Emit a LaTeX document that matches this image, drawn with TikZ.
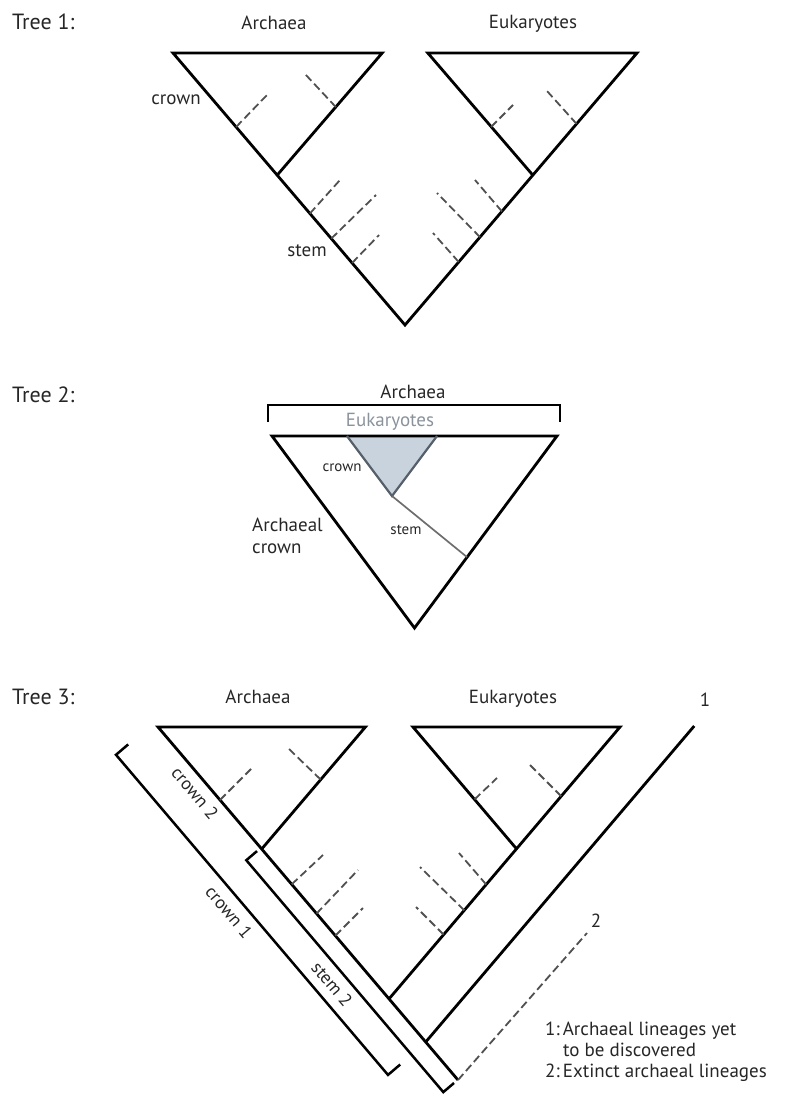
\documentclass[tikz,border=0pt]{standalone}
\usepackage{fontspec}
\setmainfont{PT Sans}
\usetikzlibrary{calc}
\definecolor{txt}{HTML}{262626}
\definecolor{dashgrey}{HTML}{505050}
\definecolor{eukfill}{HTML}{C9D3DD}
\definecolor{eukedge}{HTML}{55606A}
\definecolor{eukname}{HTML}{8A929C}
\definecolor{stemgrey}{HTML}{6E6E6E}
\begin{document}
\begin{tikzpicture}[x=1pt,y=-1pt,
  treeline/.style={line width=2.8pt, line join=miter, black},
  bracketline/.style={line width=2.5pt, line join=miter, black},
  dashline/.style={line width=1.8pt, dashgrey, dash pattern=on 8pt off 4pt},
  lbl/.style={text=txt, inner sep=0pt, font=\fontsize{19}{22}\selectfont},
  treelbl/.style={text=txt, inner sep=0pt, anchor=west, font=\fontsize{22}{25}\selectfont},
  smalllbl/.style={text=txt, inner sep=0pt, font=\fontsize{15}{18}\selectfont},
  rotlbl/.style={text=txt, inner sep=0pt, rotate=-49.65, font=\fontsize{18}{21}\selectfont}
]
\useasboundingbox (0,0) rectangle (785,1095);

% ---------------- Tree 1 ----------------
\coordinate (A1TL) at (173,53);
\coordinate (A1TR) at (382.2,53);
\coordinate (N1a) at (277.3,175);
\coordinate (E1TL) at (427.8,53);
\coordinate (E1TR) at (637,53);
\coordinate (N1e) at (532.7,175);
\coordinate (R1) at (405,325);
\draw[treeline] (N1a) -- (A1TR) -- (A1TL) -- (R1) -- (E1TR) -- (E1TL) -- (N1e);

\coordinate (d1a) at (236.1,127.0); \coordinate (d1b) at (268,94);
\coordinate (d2a) at (335.9,107.1); \coordinate (d2b) at (305,74);
\coordinate (d3a) at (309.9,213.5); \coordinate (d3b) at (340,180);
\coordinate (d4a) at (331.3,238.6); \coordinate (d4b) at (376,195);
\coordinate (d5a) at (352.1,263.0); \coordinate (d5b) at (379,235);
\coordinate (d6a) at (491.1,126.9); \coordinate (d6b) at (513,105);
\coordinate (d7a) at (576.6,123.9); \coordinate (d7b) at (547,91);
\coordinate (d8a) at (501.9,211.4); \coordinate (d8b) at (475,180);
\coordinate (d9a) at (480.0,237.1); \coordinate (d9b) at (437,193);
\coordinate (d10a) at (458.7,262.0); \coordinate (d10b) at (433,233);
\foreach \i in {1,...,10} {\draw[dashline] (d\i a) -- (d\i b);}

\node[treelbl] (t1) at (12,22) {Tree 1:};
\node[lbl] (t1arch) at (274,23) {Archaea};
\node[lbl] (t1euk) at (533,24) {Eukaryotes};
\node[lbl] (t1crown) at (176,100) {crown};
\node[lbl] (t1stem) at (307,251) {stem};

% ---------------- Tree 2 ----------------
\coordinate (BL1) at (268,422);
\coordinate (BL2) at (268,405);
\coordinate (BR2) at (560,405);
\coordinate (BR1) at (560,422);
\draw[bracketline] (BL1) -- (BL2) -- (BR2) -- (BR1);

\coordinate (T2L) at (272,436);
\coordinate (T2R) at (557,436);
\coordinate (R2) at (414.5,628);
\coordinate (T2E1) at (347,436);
\coordinate (T2E2) at (437,436);
\coordinate (N2e) at (392,496);
\coordinate (S2) at (466.9,557);
\fill[eukfill] (T2E1) -- (T2E2) -- (N2e) -- cycle;
\draw[treeline] (T2L) -- (T2R) -- (R2) -- cycle;
\draw[line width=2.2pt, eukedge, line join=miter] (T2E1) -- (N2e) -- (T2E2);
\draw[line width=1.7pt, stemgrey] (N2e) -- (S2);

\node[treelbl] (t2) at (12,395) {Tree 2:};
\node[lbl] (t2arch) at (413,392) {Archaea};
\node[lbl, text=eukname] (t2euk) at (390,422) {Eukaryotes};
\node[smalllbl] (t2crown) at (342,468) {crown};
\node[smalllbl] (t2stem) at (406,530) {stem};
\node[lbl, align=left, anchor=west] (t2ac) at (252,536) {Archaeal\\crown};

% ---------------- Tree 3 ----------------
\coordinate (A3TL) at (158,727);
\coordinate (A3TR) at (365.4,727);
\coordinate (N3a) at (261.7,849);
\coordinate (E3TL) at (413,727);
\coordinate (E3TR) at (620,727);
\coordinate (N3e) at (516.5,848.8);
\coordinate (B3) at (389,998.9);
\coordinate (B1) at (425.7,1042);
\coordinate (L1top) at (694.2,726);
\coordinate (R3) at (458,1080);
\coordinate (L2top) at (587,933);
\draw[treeline] (N3a) -- (A3TR) -- (A3TL) -- (R3);
\draw[treeline] (N3e) -- (E3TL) -- (E3TR) -- (B3);
\draw[treeline] (B1) -- (L1top);
\draw[dashline] (R3) -- (L2top);

\coordinate (e1a) at (220.0,800.0); \coordinate (e1b) at (252,768);
\coordinate (e2a) at (320.7,779.6); \coordinate (e2b) at (288,748);
\coordinate (e3a) at (291.7,884.3); \coordinate (e3b) at (323,855);
\coordinate (e4a) at (316.5,913.6); \coordinate (e4b) at (358,870);
\coordinate (e5a) at (335.3,935.7); \coordinate (e5b) at (363,908);
\coordinate (e6a) at (474.5,799.4); \coordinate (e6b) at (497,778);
\coordinate (e7a) at (561.2,796.2); \coordinate (e7b) at (530,765);
\coordinate (e8a) at (486.2,884.5); \coordinate (e8b) at (459,853);
\coordinate (e9a) at (464.3,910.3); \coordinate (e9b) at (420,867);
\coordinate (e10a) at (443.6,934.6); \coordinate (e10b) at (416,907);
\foreach \i in {1,...,10} {\draw[dashline] (e\i a) -- (e\i b);}

% brackets
\coordinate (C1a) at (128.2,744.4);
\coordinate (C1s) at (116,754.8);
\coordinate (C1e) at (388,1074.9);
\coordinate (C1b) at (400.2,1064.5);
\draw[bracketline] (C1a) -- (C1s) -- (C1e) -- (C1b);
\coordinate (S2a) at (257,851.1);
\coordinate (S2s) at (246.3,860.2);
\coordinate (S2e) at (443.3,1092.1);
\coordinate (S2b) at (454,1083);
\draw[bracketline] (S2a) -- (S2s) -- (S2e) -- (S2b);

\node[treelbl] (t3) at (12,697) {Tree 3:};
\node[lbl] (t3arch) at (258,697) {Archaea};
\node[lbl] (t3euk) at (513,699) {Eukaryotes};
\node[lbl] (t3one) at (705,700) {1};
\node[lbl] (t3two) at (596,921) {2};
\node[rotlbl] (t3c2) at (195,793) {crown 2};
\node[rotlbl] (t3c1) at (229,912) {crown 1};
\node[rotlbl] (t3s2) at (332,984) {stem 2};
\node[text=txt, inner sep=0pt, anchor=north west, align=left,
      font=\fontsize{19}{21}\selectfont] (legend) at (545,1022)
  {1:\,Archaeal lineages yet\\\hspace*{18pt}to be discovered\\2:\,Extinct archaeal lineages};
\end{tikzpicture}
\end{document}
